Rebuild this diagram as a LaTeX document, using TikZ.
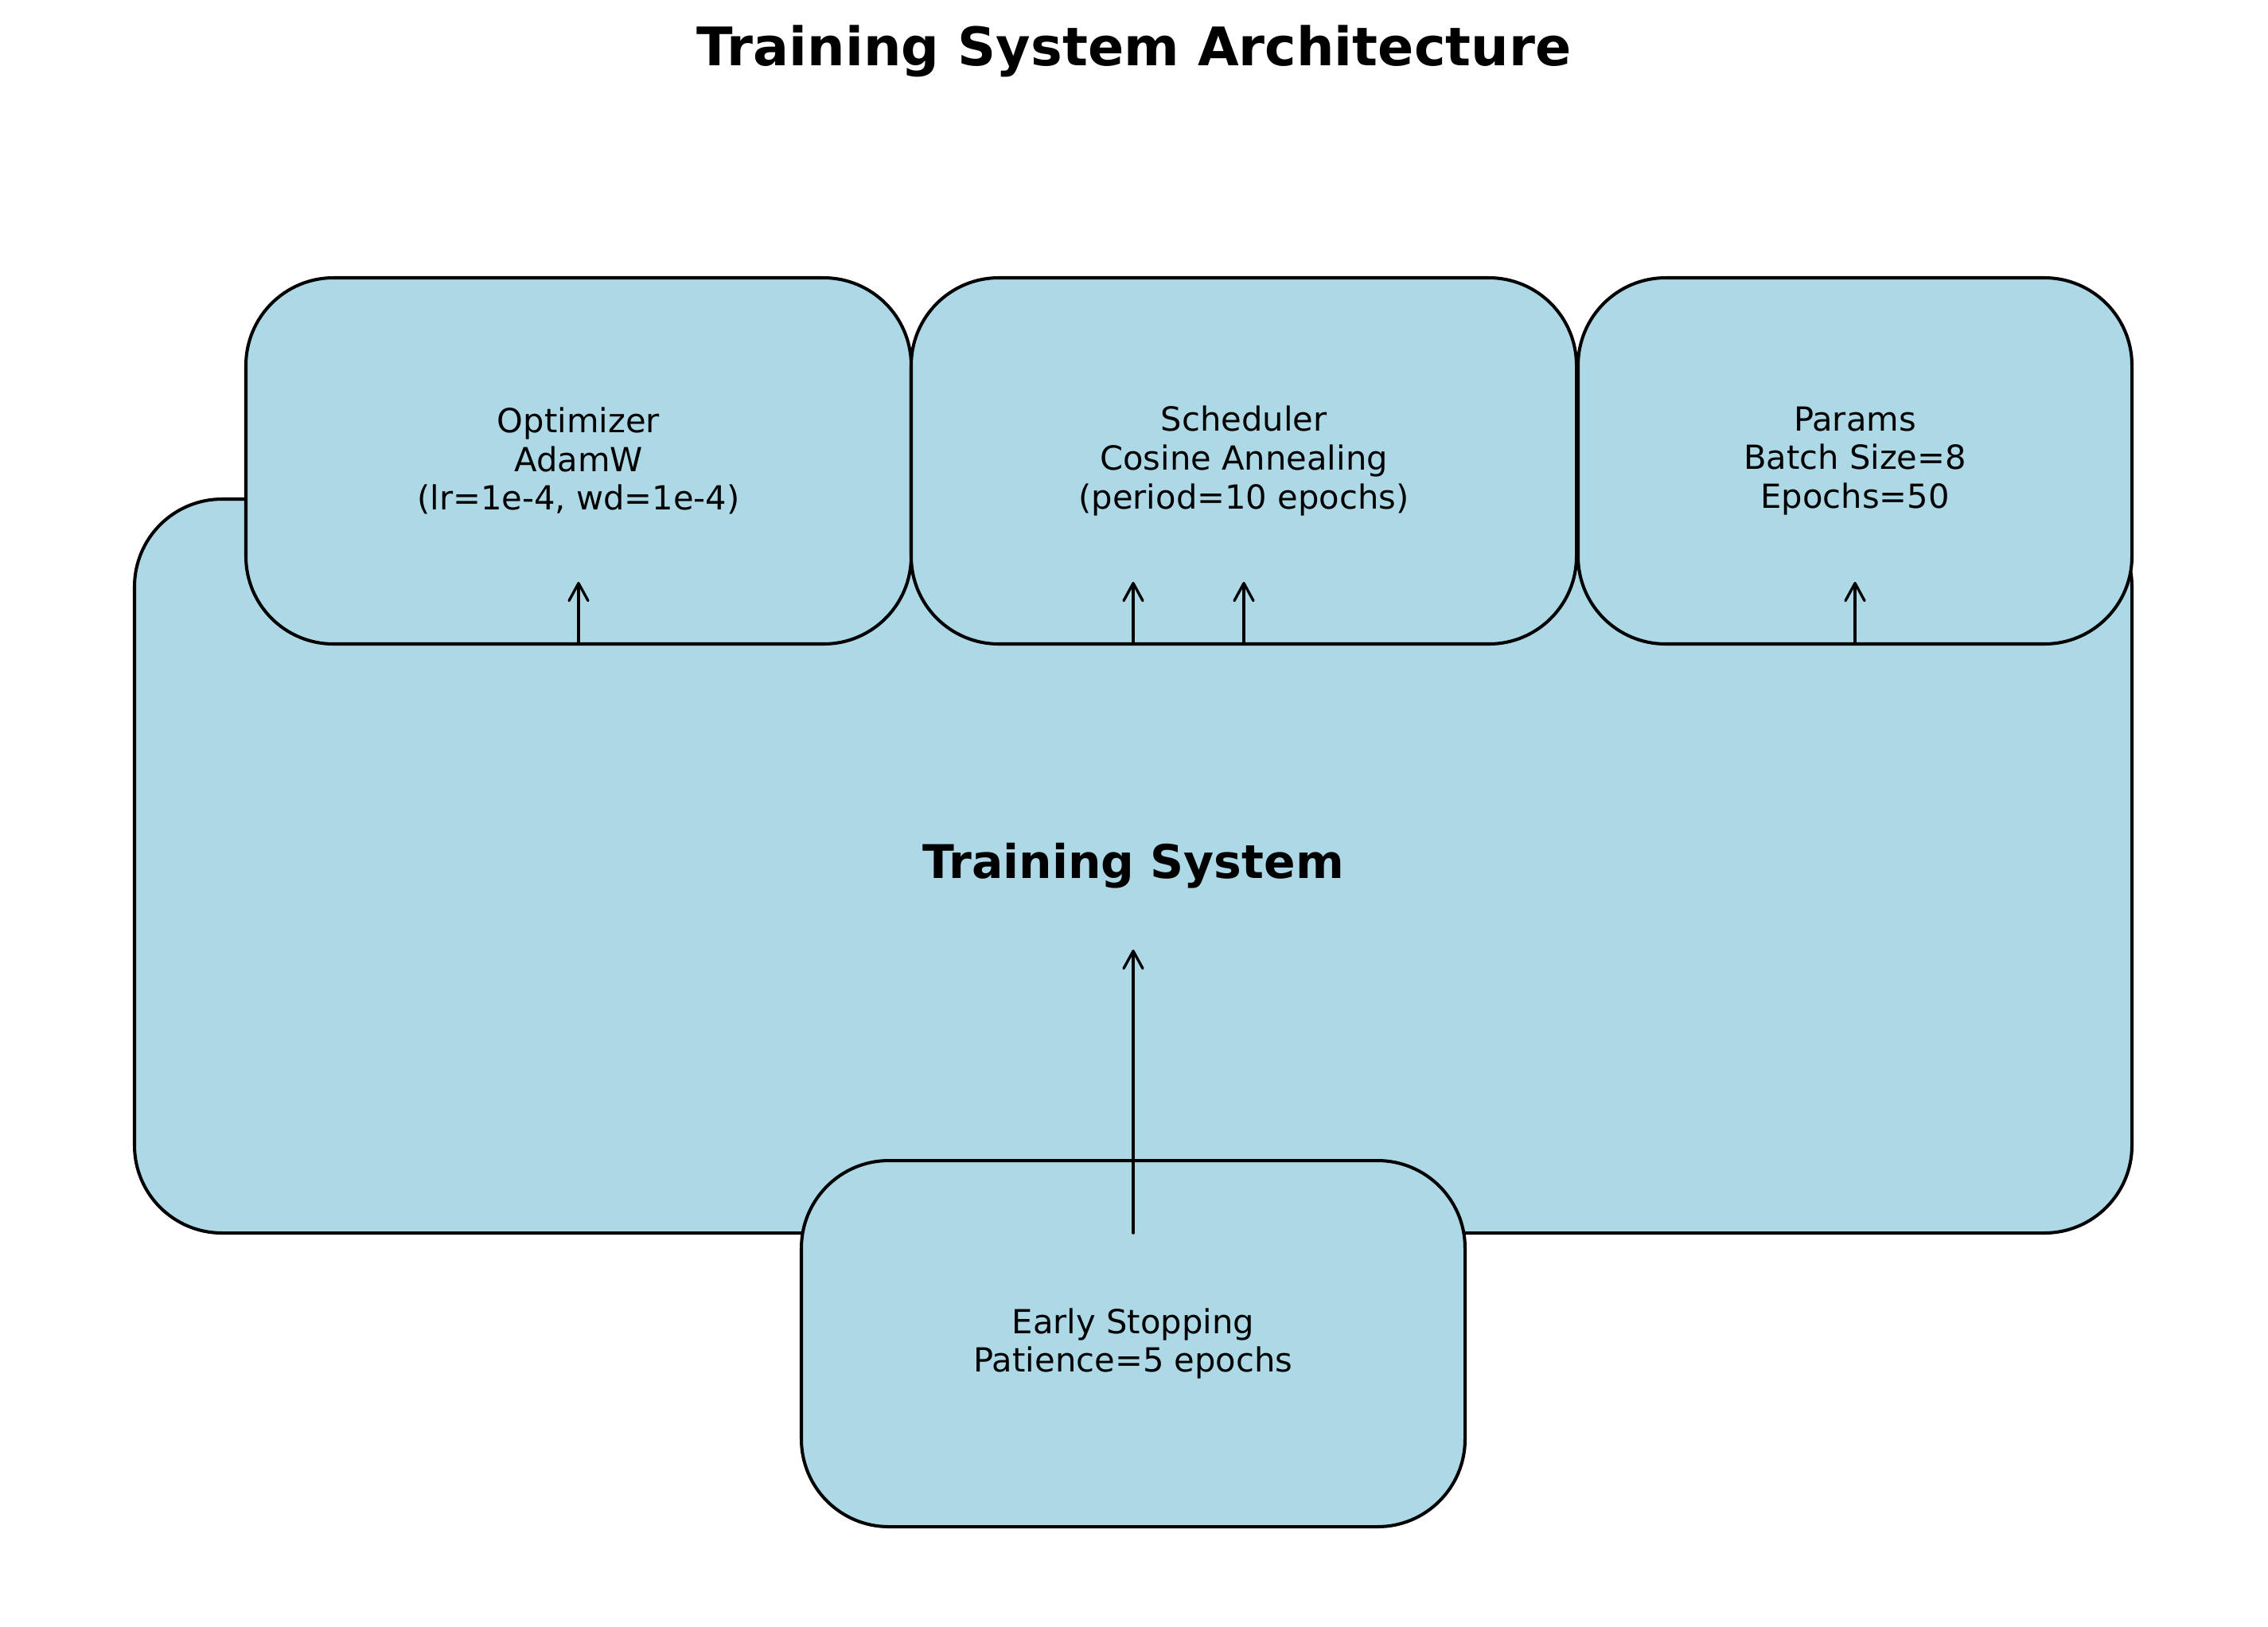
\documentclass[tikz,border=0pt]{standalone}
\usepackage{fontspec}
\setmainfont{DejaVu Sans}
\usetikzlibrary{arrows.meta, positioning}

\definecolor{boxblue}{HTML}{ADD8E6}

\begin{document}
\begin{tikzpicture}[
        part/.style={rectangle, draw=black, line width=1.15pt, fill=boxblue, rounded corners=1.1cm, minimum height=4.6cm, align=center, inner sep=0pt, outer sep=0pt, font=\fontsize{11.86}{13.9}\selectfont},
        system/.style={part, minimum width=25.1cm, minimum height=9.22cm, font=\fontsize{16.6}{19}\selectfont\bfseries},
        line/.style={draw, line width=0.95pt, line cap=round, -{Straight Barb[length=2.2mm, width=2.4mm, round]}}
    ]
        \useasboundingbox (0,0) rectangle (28.5,-20.43);

        % Title
        \node[font=\fontsize{19}{22}\selectfont\bfseries] (title) at (14.25,-0.64) {Training System Architecture};

        % Main block
        \node[system] (train) at (14.24,-10.88) {Training System};

        % Components on top
        \node[part, minimum width=8.36cm] (opt) at (7.27,-5.79) {Optimizer\\AdamW\\(lr=1e-4, wd=1e-4)};
        \node[part, minimum width=8.36cm, right=0cm of opt] (sched) {Scheduler\\Cosine Annealing\\(period=10 epochs)};
        \node[part, minimum width=6.96cm, right=0.02cm of sched] (params) {Params\\Batch Size=8\\Epochs=50};

        % Component below
        \node[part, minimum width=8.34cm] (stop) at (14.24,-16.88) {Early Stopping\\Patience=5 epochs};

        % Connections
        \draw[line] (opt.south) -- ++(0,0.78);
        \draw[line] (sched.south -| train.center) -- ++(0,0.78);
        \draw[line] (sched.south) -- ++(0,0.78);
        \draw[line] (params.south) -- ++(0,0.78);
        \draw[line] (train.south) -- ++(0,3.56);
    \end{tikzpicture}
\end{document}
